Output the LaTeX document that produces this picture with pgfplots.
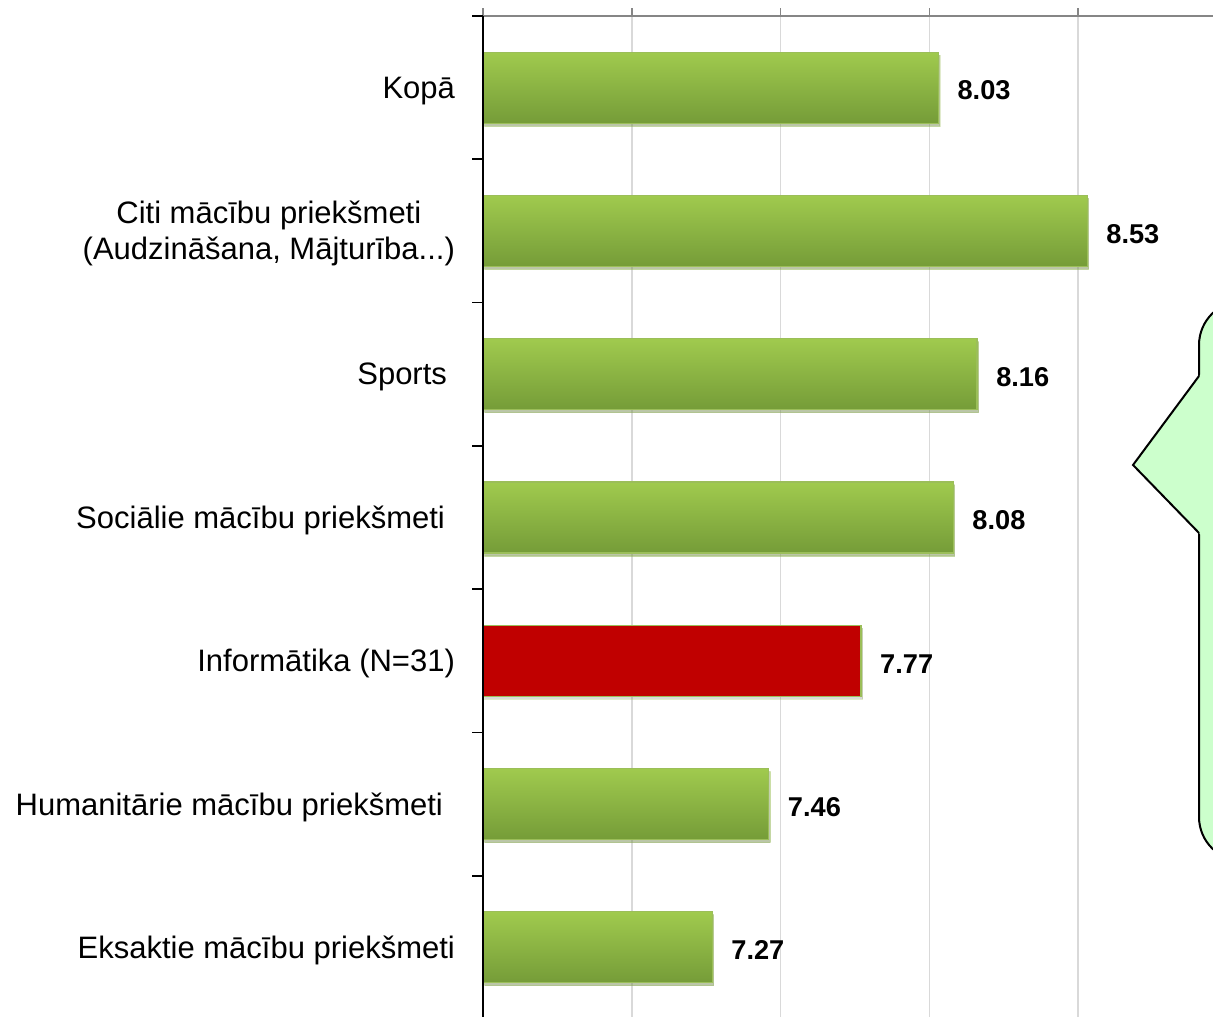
\documentclass[border=0pt]{standalone}
\usepackage{fontspec}
\setmainfont{Liberation Sans}
\usepackage{pgfplots}
\pgfplotsset{compat=1.18}
\usetikzlibrary{shadows}
\definecolor{bartop}{RGB}{160,202,78}
\definecolor{barbot}{RGB}{117,156,56}
\definecolor{baredge}{RGB}{155,190,89}
\definecolor{barred}{RGB}{192,0,0}
\definecolor{gridc}{RGB}{217,217,217}
\definecolor{xaxisc}{RGB}{134,134,134}
\definecolor{callfill}{RGB}{204,255,204}
\pgfplotsset{
  gbar/.style={xbar, bar width=35.5pt, bar shift=0pt, draw=baredge, line width=0.6pt,
    top color=bartop, bottom color=barbot,
    drop shadow={opacity=0.3, shadow xshift=0.8pt, shadow yshift=-1.5pt}},
}
\begin{document}
\begin{tikzpicture}
\useasboundingbox (0,0) rectangle (606.5pt,508pt);
\clip (0,0) rectangle (606.5pt,508pt);
\begin{axis}[
  at={(241.5pt,-1.5pt)}, anchor=south west,
  scale only axis, width=372pt, height=501.5pt,
  xmin=6.5, xmax=9, ymin=-0.5, ymax=6.5,
  axis x line*=top, axis y line*=left,
  x axis line style={xaxisc, line width=0.8pt, -},
  y axis line style={black, line width=1pt, -},
  xtick={6.5,7,7.5,8,8.5,9}, xticklabels={},
  tick align=outside,
  major tick length=4pt, minor tick length=5.5pt,
  every major x tick/.append style={xaxisc, line width=0.8pt},
  xmajorgrids, grid style={gridc, line width=0.8pt},
  ytick={0,1,2,3,4,5,6},
  yticklabels={{Eksaktie mācību priekšmeti},
    {Humanitārie mācību priekšmeti\hspace*{6pt}},
    {Informātika (N=31)},
    {Sociālie mācību priekšmeti\hspace*{5pt}},
    {Sports\hspace*{4pt}},
    {Citi mācību priekšmeti\\(Audzināšana, Mājturība{.}{.}{.})},
    {Kopā}},
  every major y tick/.append style={draw=none},
  minor ytick={-0.5,0.5,1.5,2.5,3.5,4.5,5.5,6.5},
  every minor y tick/.append style={black, line width=0.8pt},
  yticklabel style={font=\fontsize{15.5}{18}\selectfont, align=center, xshift=-6.5pt, yshift=-1.5pt},
  nodes near coords={\pgfmathprintnumber[fixed,fixed zerofill,precision=2,assume math mode=true]{\pgfplotspointmeta}},
  point meta=x,
  every node near coord/.append style={font=\fontsize{13.6}{16}\bfseries\selectfont, anchor=west, xshift=6pt, yshift=-1.5pt, black},
]
\addplot[gbar] coordinates {(7.27,0)};
\addplot[gbar] coordinates {(7.46,1)};
\addplot[xbar, bar width=35.5pt, bar shift=0pt, draw=baredge, line width=0.6pt,
  fill=barred,
  drop shadow={opacity=0.3, shadow xshift=0.8pt, shadow yshift=-1.5pt}]
  coordinates {(7.77,2)};
\addplot[gbar] coordinates {(8.08,3)};
\addplot[gbar] coordinates {(8.16,4)};
\addplot[gbar] coordinates {(8.53,5)};
\addplot[gbar] coordinates {(8.03,6)};
\draw[black, line width=1pt] (rel axis cs:0,0) -- (rel axis cs:0,1);
\end{axis}
\begin{scope}[x=0.5pt, y=-0.5pt, shift={(0pt,508pt)}]
\draw[fill=callfill, line width=1pt, rounded corners=22pt] (1199,301) rectangle (1320,861);
\fill[callfill] (1201,374) -- (1133,465) -- (1201,535) -- cycle;
\draw[line width=1pt, line join=miter] (1199,376) -- (1133,465) -- (1199,533);
\end{scope}
\end{tikzpicture}
\end{document}
